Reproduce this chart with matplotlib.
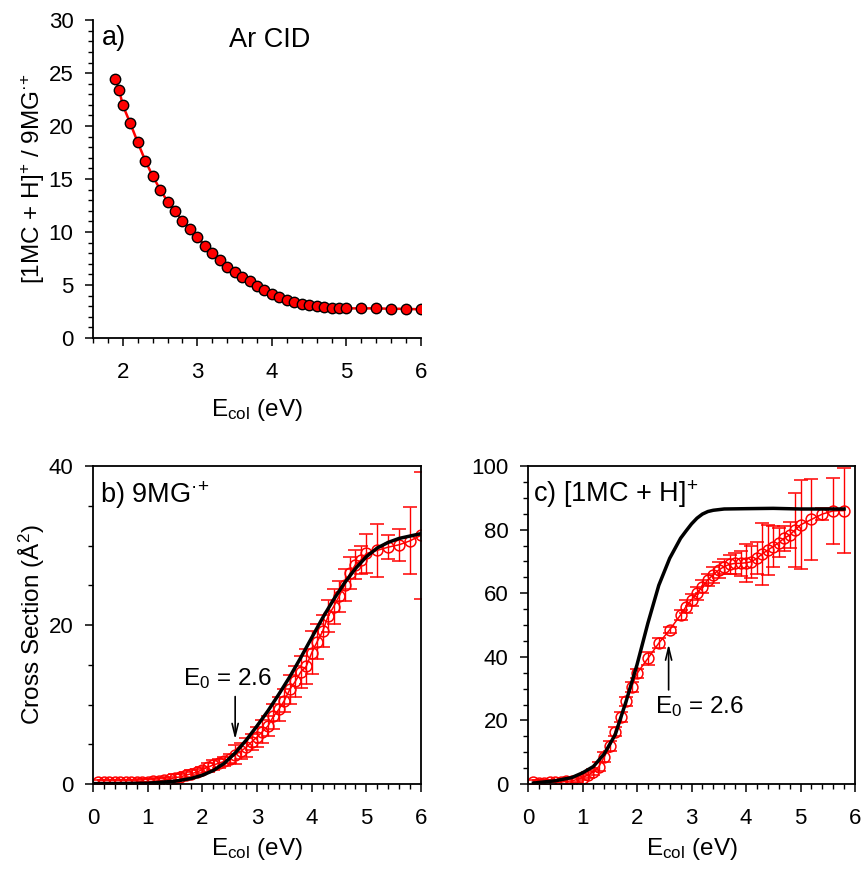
import matplotlib
matplotlib.use("Agg")
import matplotlib.pyplot as plt
from matplotlib.ticker import MultipleLocator

plt.rcParams['font.family'] = ['Liberation Sans', 'DejaVu Sans']
plt.rcParams['mathtext.fontset'] = 'custom'
plt.rcParams['mathtext.rm'] = 'Liberation Sans'
plt.rcParams['mathtext.it'] = 'Liberation Sans'
plt.rcParams['mathtext.bf'] = 'Liberation Sans:bold'

# ---------------- data ----------------
# panel a: ratio vs collision energy
a_x = [1.9, 1.95, 2.0, 2.1, 2.2, 2.3, 2.4, 2.5, 2.6, 2.7, 2.8, 2.9, 3.0, 3.1, 3.2, 3.3,
       3.4, 3.5, 3.6, 3.7, 3.8, 3.9, 4.0, 4.1, 4.2, 4.3, 4.4, 4.5, 4.6, 4.7, 4.8, 4.9,
       5.0, 5.2, 5.4, 5.6, 5.8, 6.0]
a_y = [24.44, 23.4, 21.96, 20.26, 18.47, 16.75, 15.3, 14.01, 12.88, 11.97, 11.09, 10.27,
       9.52, 8.73, 8.01, 7.32, 6.75, 6.25, 5.75, 5.34, 4.93, 4.56, 4.12, 3.83, 3.55, 3.36,
       3.2, 3.08, 2.98, 2.89, 2.83, 2.8, 2.8, 2.8, 2.8, 2.76, 2.76, 2.7]

# panel b: 9MG.+ cross section
b_x = [0.1, 0.2, 0.3, 0.4, 0.5, 0.6, 0.7, 0.8, 0.9, 1.0, 1.1, 1.2, 1.3, 1.4, 1.5, 1.6, 1.7,
       1.8, 1.9, 2.0, 2.1, 2.2, 2.3, 2.4, 2.5, 2.6, 2.7, 2.8, 2.9, 3.0, 3.1, 3.2, 3.3, 3.4,
       3.5, 3.6, 3.7, 3.8, 3.9, 4.0, 4.1, 4.2, 4.3, 4.4, 4.5, 4.6, 4.7, 4.8, 4.9, 5.0,
       5.2, 5.4, 5.6, 5.8, 6.0]
b_y = [0.2, 0.2, 0.2, 0.2, 0.2, 0.2, 0.2, 0.25, 0.3, 0.3, 0.35, 0.4, 0.5, 0.6, 0.8, 0.9, 1.1,
       1.3, 1.5, 1.8, 2.1, 2.4, 2.6, 2.85, 3.2, 3.7, 4.1, 4.6, 5.3, 5.9, 6.6, 7.3, 8.5, 9.4,
       10.5, 11.9, 12.9, 14.1, 14.8, 16.5, 17.9, 19.2, 21.1, 22.3, 23.6, 25.0, 26.5, 27.6,
       28.2, 29.0, 29.4, 29.8, 30.1, 30.6, 31.3]
b_err = [0.3, 0.3, 0.3, 0.3, 0.3, 0.3, 0.3, 0.3, 0.3, 0.3, 0.3, 0.3, 0.3, 0.3, 0.4, 0.4, 0.4,
         0.4, 0.4, 0.4, 0.6, 0.6, 0.6, 0.6, 0.6, 1.2, 1.0, 1.2, 1.0, 1.3, 1.5, 1.3, 1.6, 1.5,
         1.5, 1.8, 2.0, 2.0, 2.2, 2.7, 2.2, 2.0, 2.0, 2.2, 2.0, 2.0, 2.0, 1.8, 1.8, 2.5,
         3.3, 1.5, 2.0, 4.2, 8.0]
b_fit_x = [0.0, 0.5, 1.0, 1.5, 1.8, 2.0, 2.2, 2.4, 2.6, 2.8, 3.0, 3.2, 3.4, 3.6, 3.8, 4.0,
           4.2, 4.4, 4.6, 4.8, 5.0, 5.2, 5.4, 5.6, 5.8, 6.0]
b_fit_y = [0.05, 0.05, 0.1, 0.35, 0.7, 1.1, 1.7, 2.6, 3.9, 5.5, 7.3, 9.2, 11.3, 13.5, 15.9,
           18.4, 20.9, 23.2, 25.3, 27.1, 28.6, 29.7, 30.4, 30.9, 31.2, 31.5]

# panel c: [1MC + H]+ cross section
c_x = [0.1, 0.2, 0.3, 0.4, 0.5, 0.6, 0.7, 0.8, 0.9, 1.0, 1.1, 1.2, 1.3, 1.4, 1.5, 1.6, 1.7,
       1.8, 1.9, 2.0, 2.2, 2.4, 2.6, 2.8, 2.9, 3.0, 3.1, 3.2, 3.3, 3.4, 3.5, 3.6, 3.7, 3.8,
       3.9, 4.0, 4.1, 4.2, 4.3, 4.4, 4.5, 4.6, 4.7, 4.8, 4.9, 5.0, 5.2, 5.4, 5.6, 5.8]
c_y = [0.5, 0.4, 0.4, 0.5, 0.5, 0.6, 0.8, 1.0, 1.4, 2.0, 2.8, 3.8, 5.5, 8.5, 12.0, 16.5, 21.0,
       26.0, 30.5, 34.8, 39.5, 44.3, 48.5, 53.2, 55.8, 57.9, 60.0, 62.1, 64.2, 65.8, 67.3,
       68.4, 69.1, 69.4, 69.4, 69.6, 69.9, 71.0, 72.4, 73.6, 74.7, 75.9, 77.3, 78.3, 79.9,
       81.5, 83.2, 84.9, 85.9, 86.0]
c_err = [0.8, 0.8, 0.8, 0.8, 0.8, 0.8, 0.8, 0.8, 0.8, 0.8, 1.0, 1.0, 1.5, 1.5, 1.5, 1.5, 1.5,
         1.5, 1.5, 1.5, 2.0, 1.5, 1.0, 1.5, 2.0, 2.0, 2.0, 2.0, 2.0, 2.5, 2.5, 2.5, 3.0, 3.4,
         4.0, 6.0, 5.0, 5.0, 9.7, 8.0, 6.3, 4.5, 4.0, 4.0, 11.5, 14.0, 12.6, 2.0, 10.5, 13.4]
c_fit_x = [0.1, 0.5, 0.8, 1.0, 1.2, 1.4, 1.6, 1.8, 2.0, 2.2, 2.4, 2.6, 2.8, 2.9, 3.0, 3.1,
           3.2, 3.3, 3.4, 3.6, 4.0, 4.5, 5.0, 5.5, 5.8]
c_fit_y = [0.3, 1.0, 2.0, 3.5, 5.5, 9.5, 15.5, 26.0, 37.5, 50.6, 62.5, 71.0, 77.3, 79.6,
           81.8, 83.6, 84.9, 85.7, 86.1, 86.5, 86.6, 86.7, 86.5, 86.5, 86.5]

RED = '#ff0000'
TICK_FS = 16
LABEL_FS = 17.5
PANEL_FS = 19.5
E0_FS = 17.5

fig = plt.figure(figsize=(8.66, 8.71), dpi=100)
ax_a = fig.add_axes([0.1074, 0.6119, 0.3788, 0.365])
ax_b = fig.add_axes([0.1074, 0.0999, 0.3788, 0.365])
ax_c = fig.add_axes([0.6097, 0.0999, 0.3776, 0.365])


def style(ax):
    for s in ax.spines.values():
        s.set_linewidth(1.3)
    ax.tick_params(which='major', direction='out', length=6, width=1.1,
                   labelsize=TICK_FS, top=False, right=False)
    ax.tick_params(which='minor', direction='out', length=3.5, width=1.0,
                   top=False, right=False)
    ax.tick_params(axis='x', which='major', pad=11)
    ax.tick_params(axis='y', which='major', pad=8)


# ---- panel a ----
ax_a.plot(a_x, a_y, '-', color=RED, lw=1.8, marker='o', ms=7.5,
          mfc=RED, mec='black', mew=1.0, zorder=3)
ax_a.set_xlim(1.6, 6)
ax_a.set_ylim(0, 30)
ax_a.xaxis.set_major_locator(MultipleLocator(1))
ax_a.xaxis.set_minor_locator(MultipleLocator(0.2))
ax_a.yaxis.set_major_locator(MultipleLocator(5))
ax_a.yaxis.set_minor_locator(MultipleLocator(1))
ax_a.spines['top'].set_visible(False)
ax_a.spines['right'].set_visible(False)
style(ax_a)
ax_a.set_xlabel(r'E$_{\mathrm{col}}$ (eV)', fontsize=LABEL_FS, labelpad=10)
ax_a.set_ylabel(r'[1MC + H]$^{+}$ / 9MG$^{{·}{+}}$', fontsize=LABEL_FS, labelpad=1.5)
ax_a.text(0.027, 0.921, 'a)', transform=ax_a.transAxes, fontsize=PANEL_FS,
          ha='left', va='baseline')
ax_a.text(0.415, 0.915, 'Ar CID', transform=ax_a.transAxes, fontsize=PANEL_FS,
          ha='left', va='baseline')

# ---- panel b ----
ax_b.errorbar(b_x, b_y, yerr=b_err, fmt='-o', color=RED, ecolor=RED, lw=1.1,
              elinewidth=1.0, capsize=5, capthick=1.0, ms=7.8, mfc='none',
              mec=RED, mew=1.1, zorder=2)
ax_b.plot(b_fit_x, b_fit_y, '-', color='black', lw=2.5, zorder=4)
ax_b.set_xlim(0, 6)
ax_b.set_ylim(0, 40)
ax_b.xaxis.set_major_locator(MultipleLocator(1))
ax_b.xaxis.set_minor_locator(MultipleLocator(0.2))
ax_b.yaxis.set_major_locator(MultipleLocator(20))
ax_b.yaxis.set_minor_locator(MultipleLocator(5))
style(ax_b)
ax_b.set_xlabel(r'E$_{\mathrm{col}}$ (eV)', fontsize=LABEL_FS, labelpad=5.5)
ax_b.set_ylabel(r'Cross Section ($\mathrm{\AA}^{2}$)', fontsize=LABEL_FS, labelpad=1.5)
ax_b.text(0.021, 0.885, r'b) 9MG$^{{·}{+}}$', transform=ax_b.transAxes,
          fontsize=PANEL_FS, ha='left', va='baseline')
ax_b.text(1.65, 12.45, r'E$_{0}$ = 2.6', fontsize=E0_FS, ha='left', va='baseline')
ax_b.annotate('', xy=(2.6, 5.6), xytext=(2.6, 11.0),
              arrowprops=dict(arrowstyle='->,head_length=0.9,head_width=0.22',
                              lw=1.2, color='black', shrinkA=0, shrinkB=0))

# ---- panel c ----
ax_c.errorbar(c_x, c_y, yerr=c_err, fmt='-o', color=RED, ecolor=RED, lw=1.1,
              elinewidth=1.0, capsize=5, capthick=1.0, ms=7.8, mfc='none',
              mec=RED, mew=1.1, zorder=2)
ax_c.plot(c_fit_x, c_fit_y, '-', color='black', lw=2.5, zorder=4)
ax_c.set_xlim(0, 6)
ax_c.set_ylim(0, 100)
ax_c.xaxis.set_major_locator(MultipleLocator(1))
ax_c.xaxis.set_minor_locator(MultipleLocator(0.2))
ax_c.yaxis.set_major_locator(MultipleLocator(20))
ax_c.yaxis.set_minor_locator(MultipleLocator(5))
style(ax_c)
ax_c.set_xlabel(r'E$_{\mathrm{col}}$ (eV)', fontsize=LABEL_FS, labelpad=5.5)
ax_c.text(0.016, 0.888, r'c) [1MC + H]$^{+}$', transform=ax_c.transAxes,
          fontsize=PANEL_FS, ha='left', va='baseline')
ax_c.text(2.33, 22.2, r'E$_{0}$ = 2.6', fontsize=E0_FS, ha='left', va='baseline')
ax_c.annotate('', xy=(2.58, 44.0), xytext=(2.58, 29.6),
              arrowprops=dict(arrowstyle='->,head_length=0.9,head_width=0.22',
                              lw=1.2, color='black', shrinkA=0, shrinkB=0))

fig.savefig('out.png', dpi=100)
